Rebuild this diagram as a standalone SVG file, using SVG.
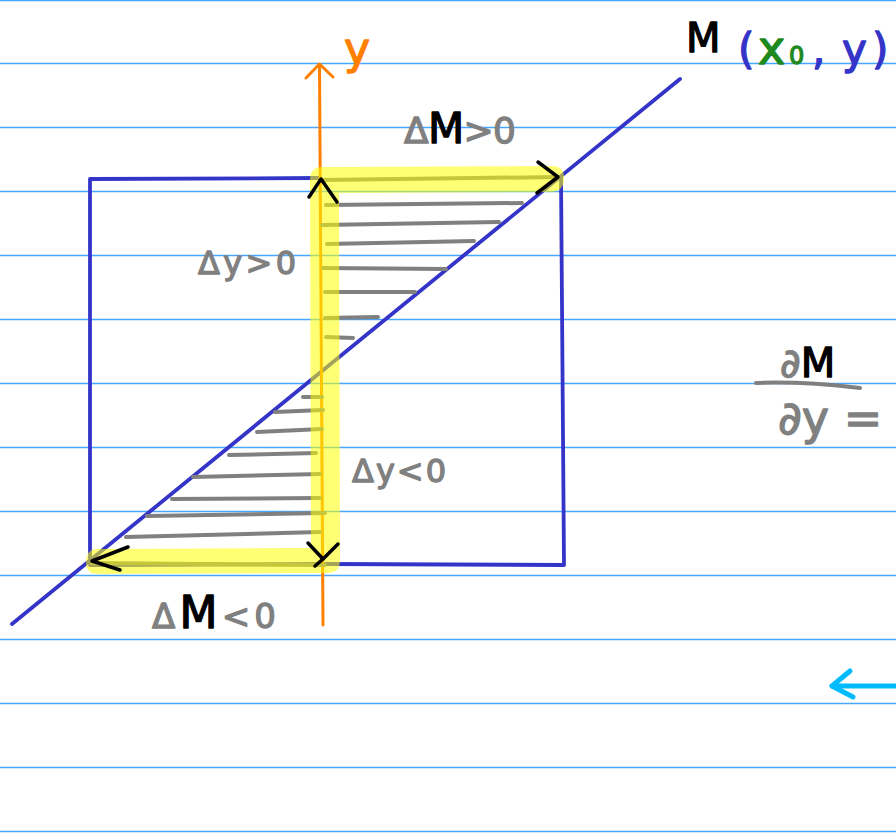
<svg xmlns="http://www.w3.org/2000/svg" width="896" height="833" viewBox="0 0 896 833">
<style>
.rule{stroke:#47a6ff;stroke-width:1.6;fill:none}
.blue{stroke:#3434c8;stroke-width:3.8;fill:none;stroke-linecap:round;stroke-linejoin:round}
.gray{stroke:#808080;stroke-width:4;fill:none;stroke-linecap:round}
.blk{stroke:#000;stroke-width:3.5;fill:none;stroke-linecap:round;stroke-linejoin:round}
.hl{fill:#ffff00;opacity:0.55}
.t{font-family:"DejaVu Sans",sans-serif;stroke-width:1.3;stroke-linejoin:round}
</style>
<rect width="896" height="833" fill="#fff"/>
<g id="rules">
<line class="rule" x1="0" y1="0.5" x2="896" y2="0.5"/>
<line class="rule" x1="0" y1="63.5" x2="896" y2="63.5"/>
<line class="rule" x1="0" y1="127.5" x2="896" y2="127.5"/>
<line class="rule" x1="0" y1="191.5" x2="896" y2="191.5"/>
<line class="rule" x1="0" y1="255.5" x2="896" y2="255.5"/>
<line class="rule" x1="0" y1="319.5" x2="896" y2="319.5"/>
<line class="rule" x1="0" y1="383.5" x2="896" y2="383.5"/>
<line class="rule" x1="0" y1="447.5" x2="896" y2="447.5"/>
<line class="rule" x1="0" y1="511.5" x2="896" y2="511.5"/>
<line class="rule" x1="0" y1="575.5" x2="896" y2="575.5"/>
<line class="rule" x1="0" y1="639.5" x2="896" y2="639.5"/>
<line class="rule" x1="0" y1="703.5" x2="896" y2="703.5"/>
<line class="rule" x1="0" y1="767.5" x2="896" y2="767.5"/>
<line class="rule" x1="0" y1="831.5" x2="896" y2="831.5"/>
</g>
<g id="box">
<polyline class="blue" points="320,178 90,179 90,565 325,564"/>
<polyline class="blue" points="325,564 564,565 561,176"/>
</g>
<g id="diagonal">
<line class="blue" x1="12" y1="624" x2="680" y2="79"/>
</g>
<g id="axis-y">
<path d="M319.5,65 L323,625" stroke="#ff8000" stroke-width="3" fill="none" stroke-linecap="round"/>
<polyline points="306,78 319.5,64 333,77" stroke="#ff8000" stroke-width="3" fill="none" stroke-linecap="round" stroke-linejoin="round"/>
<text class="t" x="344" y="64" font-size="44" fill="#ff8000" stroke="#ff8000">y</text>
</g>
<g id="hatching">
<line class="gray" x1="326" y1="205" x2="522" y2="203"/>
<line class="gray" x1="322" y1="225" x2="499" y2="222"/>
<line class="gray" x1="327" y1="244" x2="474" y2="241"/>
<line class="gray" x1="323" y1="268" x2="446" y2="269"/>
<line class="gray" x1="325" y1="292" x2="415" y2="292"/>
<line class="gray" x1="325" y1="318" x2="378" y2="317"/>
<line class="gray" x1="326" y1="337" x2="353" y2="338"/>
<line class="gray" x1="303" y1="397" x2="322" y2="397"/>
<line class="gray" x1="275" y1="412" x2="323" y2="410"/>
<line class="gray" x1="257" y1="432" x2="322" y2="429"/>
<line class="gray" x1="229" y1="455" x2="316" y2="453"/>
<line class="gray" x1="193" y1="477" x2="320" y2="474"/>
<line class="gray" x1="172" y1="499" x2="320" y2="498"/>
<line class="gray" x1="147" y1="516" x2="325" y2="513"/>
<line class="gray" x1="126" y1="537" x2="320" y2="532"/>
<line class="gray" x1="322" y1="180" x2="558" y2="177"/>
<line class="gray" x1="92" y1="563" x2="325" y2="565"/>
</g>
<g id="highlight">
<path class="hl" d="M322,167 L552,166 Q564,166 564,178 Q564,191 552,192 L339,193 L340,560 Q340,573 327,573 L98,574 Q86,574 86,562 Q86,549 98,549 L311,548 L310,180 Q310,167 322,167 Z"/>
</g>
<g id="arrowheads">
<polyline class="blk" points="538,162 558,177 537,193"/>
<polyline class="blk" points="309,197 321,179 337,202"/>
<polyline class="blk" points="128,547 92,561 120,570"/>
<polyline class="blk" points="308,543 323,559 338,544"/>
<line class="blk" x1="323" y1="559" x2="315" y2="566"/>
</g>
<g id="label-M">
<text class="t" x="686" y="52" font-size="40" fill="#000" stroke="#000">M</text>
<text class="t" y="64" font-size="42"><tspan x="738" fill="#3434c8" stroke="#3434c8">(</tspan><tspan x="758" fill="#1e8a1e" stroke="#1e8a1e" font-size="46">x</tspan><tspan x="789" fill="#1e8a1e" stroke="#1e8a1e" font-size="24">0</tspan><tspan x="812" fill="#3434c8" stroke="#3434c8">,</tspan><tspan x="842" fill="#3434c8" stroke="#3434c8">y</tspan><tspan x="872" fill="#3434c8" stroke="#3434c8">)</tspan></text>
</g>
<g id="label-dM-pos">
<text class="t" x="404" y="143" font-size="36" fill="#808080" stroke="#808080" textLength="112" lengthAdjust="spacing">Δ<tspan fill="#000" stroke="#000" font-size="42">M</tspan>&gt;0</text>
</g>
<g id="label-dy-pos">
<text class="t" x="198" y="274" font-size="32" fill="#808080" stroke="#808080" textLength="98" lengthAdjust="spacing">Δy&gt;0</text>
</g>
<g id="label-dy-neg">
<text class="t" x="352" y="482" font-size="32" fill="#808080" stroke="#808080" textLength="94" lengthAdjust="spacing">Δy&lt;0</text>
</g>
<g id="label-dM-neg">
<text class="t" x="152" y="628" font-size="34" fill="#808080" stroke="#808080" textLength="124" lengthAdjust="spacing">Δ<tspan fill="#000" stroke="#000" font-size="44">M</tspan>&lt;0</text>
</g>
<g id="fraction">
<text class="t" x="780" y="377" font-size="40" fill="#808080" stroke="#808080">∂<tspan fill="#000" stroke="#000">M</tspan></text>
<path d="M756,383 Q800,381 860,388" stroke="#808080" stroke-width="4" fill="none" stroke-linecap="round"/>
<text class="t" x="778" y="434" font-size="46" fill="#808080" stroke="#808080">∂y =</text>
</g>
<g id="cyan-arrow">
<line x1="832" y1="686" x2="896" y2="686" stroke="#00bcff" stroke-width="5" stroke-linecap="round"/>
<polyline points="850,671 832,686 853,697" stroke="#00bcff" stroke-width="5" fill="none" stroke-linecap="round" stroke-linejoin="round"/>
</g>
</svg>
